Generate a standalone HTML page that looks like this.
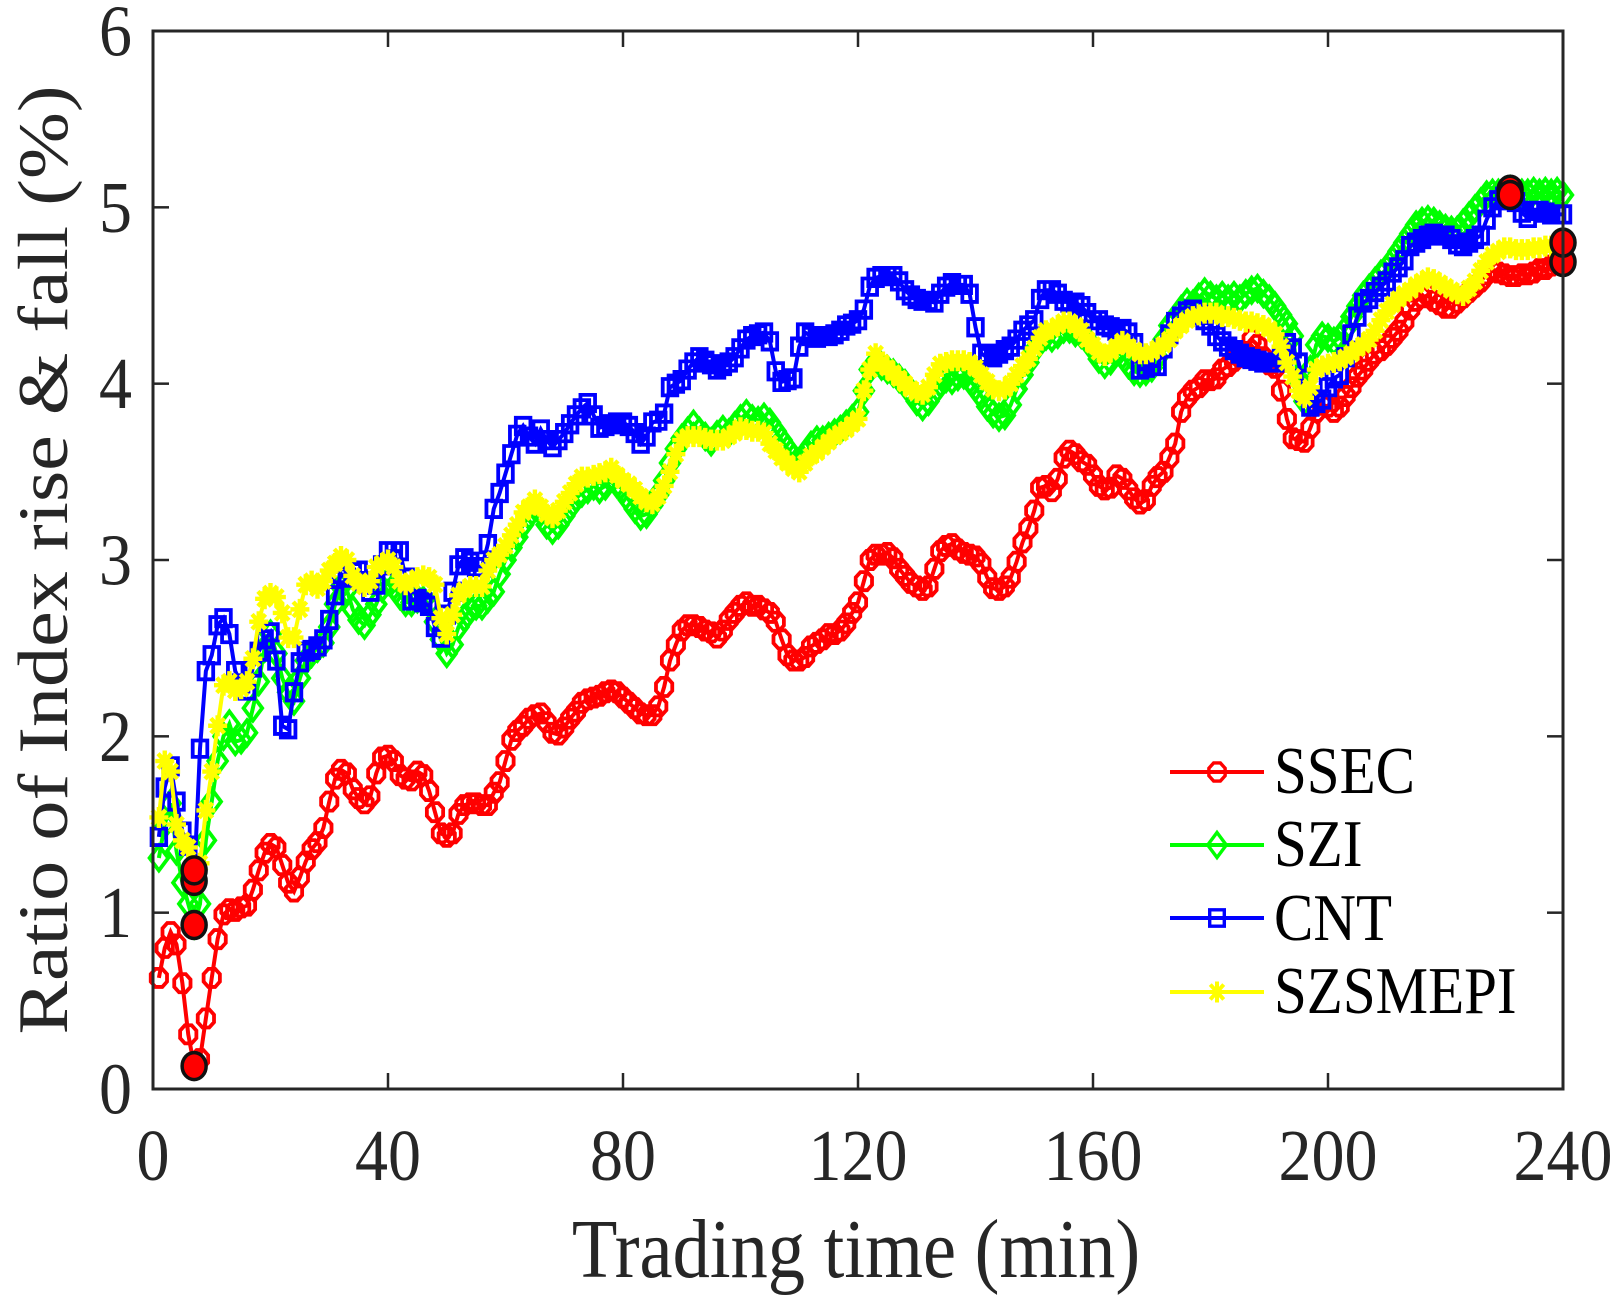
<!DOCTYPE html>
<html lang="en">
<head>
<meta charset="utf-8">
<title>Ratio of Index rise and fall</title>
<style>
html,body{margin:0;padding:0;background:#fff;width:1620px;height:1302px;overflow:hidden}
svg{display:block}
text{font-family:"Liberation Serif",serif}
</style>
</head>
<body>
<svg id="chart" xmlns="http://www.w3.org/2000/svg" width="1620" height="1302" viewBox="0 0 1620 1302">
  <rect x="0" y="0" width="1620" height="1302" fill="#fff"/>
  <g id="ticks"></g>
  <g id="series"></g>
  <g id="extremes"></g>
  <rect x="153" y="31" width="1410" height="1058" fill="none" stroke="#262626" stroke-width="3"/>
  <g id="tickLabels"></g>
  <text transform="translate(856,1277) scale(1,1.13)" text-anchor="middle" font-size="74.5" fill="#262626">Trading time (min)</text>
  <text transform="translate(67,560) rotate(-90) scale(1.13,1)" text-anchor="middle" font-size="71" fill="#262626">Ratio of Index rise &amp; fall (%)</text>
  <g id="legend"></g>
</svg>
<script>
const xTickValues = [0, 40, 80, 120, 160, 200, 240];
const yTickValues = [0, 1, 2, 3, 4, 5, 6];
const seriesNames = ['SSEC', 'SZI', 'CNT', 'SZSMEPI'];
const ssec = [
.63,.80,.89,.82,.60,.31,.13,.17,.40,.63,
.85,.99,1.02,1.01,1.03,1.04,1.13,1.24,1.34,1.39,
1.37,1.27,1.17,1.12,1.20,1.29,1.36,1.40,1.48,1.63,
1.76,1.81,1.79,1.70,1.65,1.62,1.66,1.79,1.88,1.89,
1.86,1.78,1.76,1.75,1.80,1.78,1.69,1.57,1.45,1.43,
1.45,1.56,1.61,1.62,1.62,1.61,1.61,1.68,1.74,1.86,
1.98,2.03,2.06,2.10,2.12,2.13,2.08,2.02,2.01,2.05,
2.10,2.14,2.19,2.21,2.22,2.23,2.25,2.26,2.25,2.22,
2.19,2.16,2.13,2.12,2.12,2.17,2.28,2.43,2.52,2.60,
2.63,2.63,2.62,2.60,2.59,2.56,2.60,2.66,2.70,2.74,
2.76,2.74,2.74,2.72,2.70,2.65,2.55,2.46,2.43,2.43,
2.45,2.51,2.53,2.55,2.58,2.58,2.60,2.64,2.70,2.76,
2.88,3.00,3.03,3.03,3.04,3.01,2.95,2.91,2.87,2.85,
2.83,2.85,2.95,3.05,3.08,3.09,3.06,3.04,3.03,3.02,
2.98,2.90,2.84,2.83,2.85,2.90,2.99,3.10,3.18,3.28,
3.41,3.42,3.39,3.46,3.58,3.62,3.60,3.56,3.54,3.48,
3.42,3.40,3.41,3.48,3.46,3.40,3.35,3.32,3.34,3.42,
3.47,3.50,3.58,3.66,3.84,3.92,3.96,3.98,4.02,4.02,
4.03,4.08,4.10,4.13,4.15,4.18,4.25,4.22,4.15,4.11,
4.09,3.96,3.80,3.69,3.68,3.67,3.75,3.84,3.88,3.87,
3.84,3.87,3.93,3.98,4.04,4.08,4.13,4.17,4.19,4.22,
4.26,4.30,4.35,4.42,4.47,4.49,4.50,4.47,4.45,4.43,
4.43,4.46,4.49,4.52,4.55,4.58,4.62,4.64,4.63,4.62,
4.61,4.61,4.62,4.62,4.63,4.65,4.65,4.67,4.68,4.69];
const szi = [
1.31,1.50,1.62,1.35,1.17,1.05,.93,1.05,1.41,1.63,
1.86,2.00,2.07,1.97,1.98,2.02,2.16,2.31,2.50,2.58,
2.47,2.33,2.25,2.20,2.33,2.43,2.47,2.50,2.53,2.62,
2.75,2.85,2.83,2.72,2.66,2.63,2.69,2.75,2.84,2.88,
2.85,2.80,2.76,2.76,2.78,2.77,2.75,2.65,2.55,2.47,
2.52,2.62,2.67,2.72,2.74,2.74,2.78,2.82,2.92,3.00,
3.07,3.13,3.20,3.25,3.30,3.27,3.20,3.17,3.20,3.25,
3.30,3.35,3.38,3.40,3.42,3.40,3.42,3.47,3.43,3.40,
3.34,3.29,3.25,3.26,3.31,3.37,3.45,3.55,3.63,3.69,
3.73,3.77,3.73,3.70,3.67,3.71,3.74,3.72,3.76,3.80,
3.83,3.80,3.79,3.81,3.78,3.73,3.68,3.63,3.58,3.56,
3.60,3.65,3.68,3.68,3.70,3.72,3.74,3.77,3.80,3.84,
3.96,4.08,4.12,4.10,4.08,4.06,4.03,4.00,3.95,3.90,
3.87,3.90,3.95,4.00,4.03,4.02,4.04,4.05,4.02,3.98,
3.93,3.87,3.83,3.81,3.82,3.88,3.97,4.05,4.12,4.19,
4.24,4.27,4.26,4.28,4.31,4.31,4.29,4.28,4.25,4.20,
4.14,4.11,4.13,4.18,4.16,4.11,4.07,4.06,4.07,4.09,
4.15,4.25,4.33,4.36,4.42,4.46,4.45,4.49,4.52,4.50,
4.48,4.50,4.48,4.50,4.48,4.51,4.53,4.54,4.51,4.48,
4.44,4.39,4.34,4.27,4.02,3.90,4.08,4.22,4.27,4.26,
4.24,4.26,4.31,4.38,4.44,4.50,4.54,4.58,4.62,4.65,
4.70,4.75,4.80,4.85,4.90,4.92,4.93,4.92,4.90,4.88,
4.87,4.87,4.91,4.95,4.99,5.03,5.07,5.08,5.08,5.09,
5.10,5.08,5.08,5.08,5.09,5.08,5.09,5.08,5.09,5.07];
const cnt = [
1.43,1.71,1.83,1.63,1.46,1.38,1.18,1.93,2.37,2.46,
2.63,2.67,2.58,2.37,2.30,2.26,2.39,2.48,2.55,2.59,
2.43,2.06,2.04,2.25,2.42,2.48,2.49,2.51,2.55,2.66,
2.80,2.92,2.90,2.93,2.94,2.88,2.82,2.86,2.97,3.05,
3.05,3.05,2.90,2.77,2.78,2.76,2.74,2.62,2.56,2.69,
2.82,2.97,3.01,2.99,2.96,2.96,3.09,3.29,3.38,3.49,
3.60,3.71,3.76,3.70,3.66,3.74,3.68,3.64,3.68,3.72,
3.77,3.82,3.86,3.89,3.82,3.75,3.76,3.77,3.78,3.78,
3.76,3.72,3.66,3.70,3.78,3.79,3.83,3.98,4.00,4.02,
4.08,4.12,4.15,4.13,4.11,4.08,4.10,4.12,4.15,4.20,
4.25,4.27,4.28,4.29,4.24,4.07,4.01,4.02,4.03,4.21,
4.29,4.27,4.26,4.27,4.27,4.28,4.30,4.33,4.34,4.36,
4.42,4.55,4.60,4.61,4.61,4.61,4.58,4.53,4.50,4.48,
4.47,4.47,4.46,4.51,4.55,4.57,4.56,4.56,4.51,4.32,
4.17,4.15,4.15,4.17,4.19,4.21,4.25,4.30,4.33,4.36,
4.48,4.53,4.53,4.51,4.47,4.46,4.46,4.44,4.40,4.36,
4.36,4.33,4.32,4.30,4.31,4.29,4.23,4.08,4.09,4.10,
4.10,4.20,4.28,4.35,4.38,4.41,4.42,4.39,4.36,4.33,
4.27,4.24,4.21,4.19,4.17,4.15,4.14,4.13,4.12,4.12,
4.12,4.15,4.23,4.20,4.12,3.95,3.87,3.89,3.91,3.98,
4.03,4.05,4.15,4.28,4.38,4.46,4.48,4.52,4.55,4.58,
4.63,4.66,4.70,4.78,4.80,4.82,4.84,4.85,4.84,4.84,
4.82,4.79,4.78,4.80,4.82,4.84,4.93,5.00,5.04,5.06,
5.07,5.03,4.97,4.94,4.98,4.98,4.97,4.96,4.96,4.96];
const szsmepi = [
1.54,1.86,1.80,1.50,1.41,1.37,1.24,1.28,1.58,1.80,
2.06,2.29,2.31,2.26,2.27,2.31,2.44,2.65,2.78,2.81,
2.79,2.70,2.56,2.56,2.72,2.86,2.88,2.84,2.88,2.94,
2.98,3.02,3.00,2.91,2.87,2.85,2.88,2.96,2.98,3.00,
2.96,2.88,2.86,2.88,2.90,2.91,2.90,2.86,2.67,2.58,
2.69,2.80,2.83,2.85,2.85,2.85,2.94,3.00,3.03,3.08,
3.14,3.20,3.27,3.30,3.34,3.30,3.26,3.24,3.28,3.33,
3.38,3.43,3.47,3.47,3.48,3.49,3.50,3.52,3.48,3.45,
3.43,3.40,3.36,3.33,3.32,3.36,3.42,3.50,3.60,3.68,
3.70,3.70,3.70,3.69,3.68,3.68,3.68,3.70,3.72,3.75,
3.74,3.73,3.73,3.72,3.66,3.62,3.58,3.55,3.52,3.50,
3.55,3.59,3.61,3.64,3.67,3.70,3.72,3.74,3.77,3.80,
3.96,4.08,4.17,4.12,4.09,4.06,4.03,4.00,3.97,3.95,
3.94,3.98,4.05,4.11,4.12,4.13,4.13,4.13,4.12,4.09,
4.05,4.01,3.97,3.96,3.97,4.00,4.05,4.10,4.14,4.20,
4.26,4.30,4.31,4.33,4.35,4.35,4.33,4.30,4.25,4.22,
4.18,4.16,4.18,4.21,4.24,4.21,4.19,4.17,4.17,4.18,
4.20,4.22,4.25,4.30,4.33,4.36,4.38,4.39,4.40,4.40,
4.40,4.38,4.38,4.37,4.36,4.35,4.35,4.34,4.33,4.31,
4.28,4.21,4.12,4.04,3.96,3.92,3.98,4.08,4.10,4.11,
4.12,4.13,4.15,4.17,4.20,4.22,4.25,4.30,4.36,4.41,
4.45,4.48,4.51,4.53,4.56,4.58,4.60,4.59,4.57,4.55,
4.53,4.51,4.50,4.54,4.58,4.64,4.69,4.73,4.75,4.77,
4.77,4.76,4.76,4.76,4.77,4.77,4.78,4.78,4.79,4.80];

const NS = 'http://www.w3.org/2000/svg';
const PLOT = {left: 153, right: 1563, top: 31, bottom: 1089, xMax: 240, yMax: 6};
function xScale(m) { return PLOT.left + (m / PLOT.xMax) * (PLOT.right - PLOT.left); }
function yScale(v) { return PLOT.bottom - (v / PLOT.yMax) * (PLOT.bottom - PLOT.top); }
function make(tag, parent) { const el = document.createElementNS(NS, tag); parent.appendChild(el); return el; }
function fmt(n) { return n.toFixed(2); }

function markerPath(kind, cx, cy) {
  if (kind === 'octagon') {
    let d = '';
    for (let i = 0; i < 8; i++) {
      const a = Math.PI / 8 + i * Math.PI / 4;
      d += (i ? 'L' : 'M') + fmt(cx + 8.8 * Math.cos(a)) + ' ' + fmt(cy + 9.8 * Math.sin(a));
    }
    return d + 'Z';
  }
  if (kind === 'diamond') {
    return 'M' + fmt(cx) + ' ' + fmt(cy - 12.5) + 'L' + fmt(cx + 9.3) + ' ' + fmt(cy) + 'L' + fmt(cx) + ' ' + fmt(cy + 12.5) + 'L' + fmt(cx - 9.3) + ' ' + fmt(cy) + 'Z';
  }
  if (kind === 'square') {
    return 'M' + fmt(cx - 7.3) + ' ' + fmt(cy - 8.2) + 'H' + fmt(cx + 7.3) + 'V' + fmt(cy + 8.2) + 'H' + fmt(cx - 7.3) + 'Z';
  }
  let d = '';
  for (let i = 0; i < 4; i++) {
    const a = i * Math.PI / 4;
    const dx = 9.5 * Math.sin(a);
    const dy = 10.5 * Math.cos(a);
    d += 'M' + fmt(cx - dx) + ' ' + fmt(cy - dy) + 'L' + fmt(cx + dx) + ' ' + fmt(cy + dy);
  }
  return d;
}

const seriesValues = [ssec, szi, cnt, szsmepi];
const seriesColors = ['#ff0000', '#00ff00', '#0000ff', '#ffff00'];
const seriesMarkers = ['octagon', 'diamond', 'square', 'star'];

/* ticks */
const tickG = document.getElementById('ticks');
const labelG = document.getElementById('tickLabels');
xTickValues.forEach(function (t) {
  const x = xScale(t);
  [[PLOT.bottom, PLOT.bottom - 16], [PLOT.top, PLOT.top + 16]].forEach(function (p) {
    const ln = make('line', tickG);
    
    
    ln.setAttribute('x1', x); ln.setAttribute('x2', x);
    ln.setAttribute('y1', p[0]); ln.setAttribute('y2', p[1]);
    ln.setAttribute('stroke', '#262626'); ln.setAttribute('stroke-width', '2.5');
  });
  const tx = make('text', labelG);
  
  
  tx.setAttribute('transform', 'translate(' + x + ',1180) scale(1,1.1)');
  tx.setAttribute('text-anchor', 'middle');
  tx.setAttribute('font-size', '66');
  tx.setAttribute('fill', '#262626');
  tx.textContent = String(t);
});
yTickValues.forEach(function (t) {
  const y = yScale(t);
  [[PLOT.left, PLOT.left + 16], [PLOT.right, PLOT.right - 16]].forEach(function (p) {
    const ln = make('line', tickG);
    
    
    ln.setAttribute('x1', p[0]); ln.setAttribute('x2', p[1]);
    ln.setAttribute('y1', y); ln.setAttribute('y2', y);
    ln.setAttribute('stroke', '#262626'); ln.setAttribute('stroke-width', '2.5');
  });
  const tx = make('text', labelG);
  
  
  tx.setAttribute('transform', 'translate(132,' + (y + 24.5) + ') scale(1,1.1)');
  tx.setAttribute('text-anchor', 'end');
  tx.setAttribute('font-size', '66');
  tx.setAttribute('fill', '#262626');
  tx.textContent = String(t);
});

/* series */
const seriesG = document.getElementById('series');
seriesValues.forEach(function (vals, s) {
  const g = make('g', seriesG);
  
  
  const pl = make('polyline', g);
  
  
  pl.setAttribute('points', vals.map(function (v, i) { return fmt(xScale(i + 1)) + ',' + fmt(yScale(v)); }).join(' '));
  pl.setAttribute('fill', 'none');
  pl.setAttribute('stroke', seriesColors[s]);
  pl.setAttribute('stroke-width', '4');
  const mk = make('path', g);
  
  
  mk.setAttribute('d', vals.map(function (v, i) { return markerPath(seriesMarkers[s], xScale(i + 1), yScale(v)); }).join(''));
  mk.setAttribute('fill', 'none');
  mk.setAttribute('stroke', seriesColors[s]);
  mk.setAttribute('stroke-width', seriesMarkers[s] === 'star' ? '4.4' : '3.8');
});

/* min / max highlighted points */
const extG = document.getElementById('extremes');
seriesValues.forEach(function (vals, s) {
  let minI = 0, maxI = 0;
  vals.forEach(function (v, i) {
    if (v < vals[minI]) minI = i;
    if (v >= vals[maxI]) maxI = i;
  });
  [minI, maxI].forEach(function (idx) {
    const e = make('ellipse', extG);
    
    
    e.setAttribute('cx', fmt(xScale(idx + 1)));
    e.setAttribute('cy', fmt(yScale(vals[idx])));
    e.setAttribute('rx', '12');
    e.setAttribute('ry', '13.5');
    e.setAttribute('fill', '#ff0000');
    e.setAttribute('stroke', '#111111');
    e.setAttribute('stroke-width', '3.5');
  });
});

/* legend */
const legendG = document.getElementById('legend');
const legendLineY = [772, 845, 918, 992];
const legendTextY = [793, 866, 940, 1013];
seriesNames.forEach(function (name, s) {
  const g = make('g', legendG);
  
  
  const ln = make('line', g);
  
  
  ln.setAttribute('x1', 1170); ln.setAttribute('x2', 1264);
  ln.setAttribute('y1', legendLineY[s]); ln.setAttribute('y2', legendLineY[s]);
  ln.setAttribute('stroke', seriesColors[s]); ln.setAttribute('stroke-width', '4');
  const mk = make('path', g);
  
  
  mk.setAttribute('d', markerPath(seriesMarkers[s], 1217, legendLineY[s]));
  mk.setAttribute('fill', 'none');
  mk.setAttribute('stroke', seriesColors[s]);
  mk.setAttribute('stroke-width', seriesMarkers[s] === 'star' ? '4' : '3.4');
  const tx = make('text', g);
  
  
  tx.setAttribute('transform', 'translate(1274,' + legendTextY[s] + ') scale(1,1.13)');
  tx.setAttribute('font-size', '59');
  tx.setAttribute('fill', '#000');
  tx.textContent = name;
});
</script>
</body>
</html>
